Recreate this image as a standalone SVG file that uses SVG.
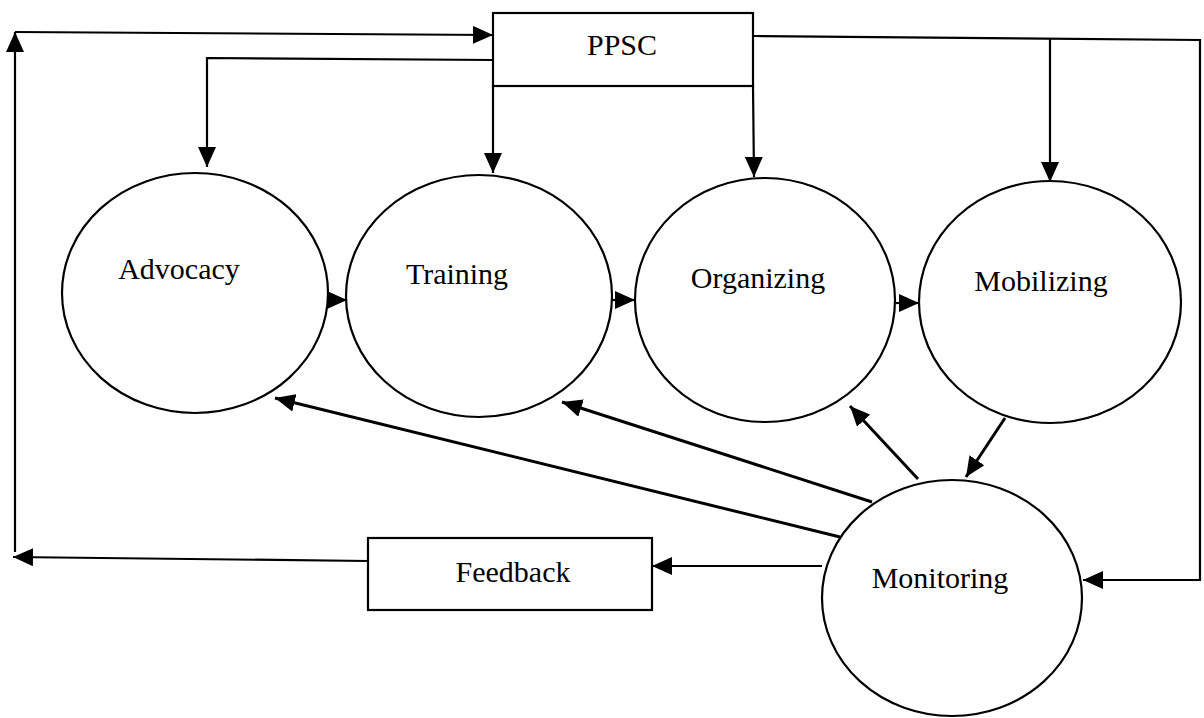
<svg xmlns="http://www.w3.org/2000/svg" width="1204" height="718" viewBox="0 0 1204 718">
<style>
.node{fill:#fff;stroke:#000;stroke-width:2.2}
.lbl{font-family:"Liberation Serif","Times New Roman",serif;font-size:30px;fill:#000;text-anchor:middle}
.c{fill:none;stroke:#000;stroke-width:2.2;marker-end:url(#ah)}
.c2{fill:none;stroke:#000;stroke-width:2.2}
.d{fill:none;stroke:#000;stroke-width:3;marker-end:url(#ah)}
</style>
<defs>
<marker id="ah" viewBox="0 0 20 18" refX="20" refY="9" markerWidth="20" markerHeight="18" markerUnits="userSpaceOnUse" orient="auto">
<path d="M0,0 L20,9 L0,18 z" fill="#000"/>
</marker>
</defs>
<rect width="1204" height="718" fill="#fff"/>
<g id="connectors">
<path class="c" d="M15,552 L15,32"/>
<path class="c" d="M15,32 L493,35"/>
<path class="c" d="M493,60 L207,58 L207,167"/>
<path class="c" d="M493,86 L493,173"/>
<path class="c" d="M753,86 L754,177"/>
<path class="c" d="M753,36 L1200,40 L1200,580 L1083,580"/>
<path class="c" d="M1050,39 L1050,182"/>
<path class="c" d="M327,300 L347,300"/>
<path class="c" d="M612,300 L635,300"/>
<path class="c" d="M896,303 L919,303"/>
<path class="d" d="M1005,418 L966,477"/>
<path class="d" d="M918,479 L850,406"/>
<path class="d" d="M872,502 L562,402"/>
<path class="d" d="M840,537 L275,398"/>
<path class="c" d="M822,566 L652,566"/>
<path class="c" d="M368,561 L13,557"/>
</g>
<g id="ppsc">
<rect class="node" x="493" y="13" width="260" height="73"/>
<text class="lbl" x="622" y="55">PPSC</text>
</g>
<g id="advocacy">
<ellipse class="node" cx="195" cy="293" rx="133" ry="120"/>
<text class="lbl" x="179" y="279">Advocacy</text>
</g>
<g id="training">
<ellipse class="node" cx="479" cy="296" rx="133" ry="121"/>
<text class="lbl" x="457" y="284">Training</text>
</g>
<g id="organizing">
<ellipse class="node" cx="765" cy="300" rx="130" ry="122"/>
<text class="lbl" x="758" y="288">Organizing</text>
</g>
<g id="mobilizing">
<ellipse class="node" cx="1050" cy="302" rx="131" ry="121"/>
<text class="lbl" x="1041" y="291">Mobilizing</text>
</g>
<g id="monitoring">
<ellipse class="node" cx="952" cy="598" rx="130" ry="118"/>
<text class="lbl" x="940" y="588">Monitoring</text>
</g>
<g id="feedback">
<rect class="node" x="368" y="538" width="284" height="72"/>
<text class="lbl" x="513" y="582">Feedback</text>
</g>
</svg>
